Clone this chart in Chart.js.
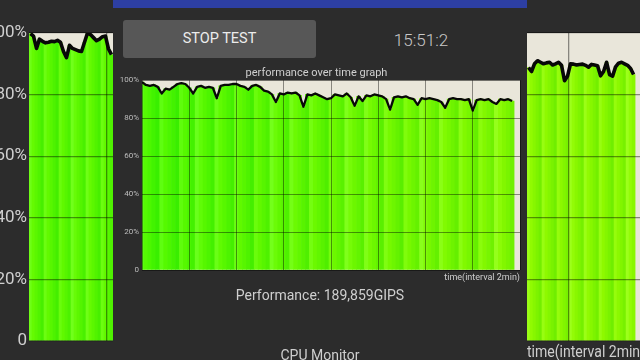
<!DOCTYPE html>
<html><head><meta charset="utf-8">
<script src="https://cdn.jsdelivr.net/npm/chart.js@4.4.0/dist/chart.umd.min.js"></script>
<style>
html,body{margin:0;padding:0;width:640px;height:360px;overflow:hidden;background:#2c2c2c;font-family:Roboto,sans-serif;}
#wrap{position:relative;width:640px;height:360px;overflow:hidden;}
canvas{position:absolute;}
#topbar{position:absolute;left:113px;top:0;width:414px;height:8px;background:#2d3fa3;}
#btn{position:absolute;left:123px;top:20px;width:193px;height:38px;background:#575757;border-radius:3px;color:#ececec;font-size:14.5px;line-height:38px;text-align:center;}
#clock{position:absolute;left:371px;top:30px;width:100px;text-align:center;color:#c8c8c8;font-size:17px;line-height:20px;font-weight:300;}
#perf{position:absolute;left:0;width:640px;top:287px;text-align:center;color:#cfcfcf;font-size:14px;line-height:16px;}
#cpu{position:absolute;left:0;width:640px;top:347px;text-align:center;color:#cfcfcf;font-size:14px;line-height:16px;}
</style></head>
<body><div id="wrap">
<canvas id="leftChart" width="135" height="360" style="left:-20px;top:0;"></canvas>
<canvas id="rightChart" width="130" height="364" style="left:527px;top:0;"></canvas>
<div id="topbar"></div>
<div id="btn">STOP TEST</div>
<div id="clock">15:51:2</div>
<canvas id="mainChart" width="436" height="228" style="left:113px;top:60px;"></canvas>
<div id="perf">Performance: 189,859GIPS</div>
<div id="cpu">CPU Monitor</div>
</div>
<script>
// ---- data (percent of peak performance, one sample every 10 s) ----
const sampleSeconds = 10;
const axisSeconds = 960;          // 8 intervals of 2 min
const intervalSeconds = 120;
const yTicks = [0, 20, 40, 60, 80, 100];
const mainPerf = [
  99, 97.5, 97, 97.5, 96.5, 93, 95.5, 95, 96.5, 98,
  98.5, 98, 96, 93, 96.5, 97, 96, 96.5, 96, 90.5,
  97, 97.5, 97.5, 98, 98, 97, 96.5, 95, 97, 97.5,
  96.5, 94.5, 94, 92.5, 88.5, 93, 92.5, 93.5, 93, 93.5,
  92, 86, 92.5, 92, 93, 92, 91, 90, 90.5, 92.5,
  92, 91.5, 93, 91, 86.5, 91.5, 89, 92, 91.5, 92.5,
  92, 91.5, 90, 84.5, 91, 91.5, 91, 91.5, 90.5, 90,
  87, 90.5, 90, 90.5, 90, 89.5, 88.5, 85.5, 90, 90.5,
  90, 90, 89.5, 90, 84, 89.5, 90, 89.5, 90, 88.5,
  87.5, 90, 89.5, 90, 89
];
const leftPerf = [
  99.8, 99, 95, 98, 97.3, 96.8, 97, 97.3, 97.2, 97.6,
  97, 94, 92, 96, 95, 94.6, 94.2, 94, 97, 100,
  99.5, 98.5, 97.5, 98, 98.8, 99, 94.8, 93
];
const leftGridSeconds = 255;
const rightPerf = [
  88.8, 87.5, 90, 91, 90.5, 90, 90.3, 90.5, 89.6, 90,
  90.5, 89.5, 84.5, 86, 90, 89.9, 89.6, 89.8, 89.9, 89.5,
  88.9, 89.8, 89.6, 89.4, 86.1, 87.5, 90.5, 86.5, 86, 89,
  90.2, 90.5, 90, 89.5, 88.5, 86.5
];
const rightGridSeconds = 135;

// ---- styling helpers ----
const FONT = 'Roboto';
const GRID = 'rgba(0,0,0,0.42)';
function stripe(i, base) {
  const j = ((i * 53 + 17) % 19) / 18;
  const r = Math.round(base + j * 45);
  const g = Math.round(238 + j * 17);
  const b = j > 0.7 ? Math.round((j - 0.7) * 90) : 0;
  return `rgb(${r},${g},${b})`;
}
const bgPlugin = {
  id: 'bg',
  beforeDatasetsDraw(chart, args, opts) {
    const {ctx, chartArea: a} = chart;
    ctx.save();
    ctx.fillStyle = opts.color || '#e9e6da';
    ctx.fillRect(a.left, a.top, a.right - a.left, a.bottom - a.top);
    ctx.restore();
  }
};
function pts(arr) { return arr.map((v, i) => ({x: i * sampleSeconds, y: v})); }

function makeChart(id, values, cfg) {
  const data = pts(values);
  return new Chart(document.getElementById(id), {
    type: 'bar',
    data: {datasets: [
      {type: 'line', data, borderColor: '#080808', borderWidth: cfg.lineWidth, pointRadius: 0, tension: 0, order: 0, borderJoinStyle: 'round'},
      {type: 'bar', data, backgroundColor: data.map((p, i) => stripe(i, cfg.base(i, data.length))), borderWidth: 0, barPercentage: 1, categoryPercentage: 1, order: 1}
    ]},
    options: {
      responsive: false, animation: false, devicePixelRatio: 1,
      layout: {padding: cfg.padding},
      plugins: {
        legend: {display: false}, tooltip: {enabled: false},
        title: cfg.title || {display: false},
        bg: {color: '#e9e6da'}
      },
      scales: {
        x: {
          type: 'linear', min: cfg.xMin, max: cfg.xMax, offset: false,
          ticks: {display: false, stepSize: intervalSeconds},
          afterBuildTicks: cfg.xGrid ? (s => { s.ticks = cfg.xGrid.map(v => ({value: v})); }) : undefined,
          grid: {color: GRID, lineWidth: cfg.gridWidth, drawTicks: false, offset: false, z: 1},
          border: {display: false},
          title: cfg.xTitle || {display: false},
          afterFit: s => { s.height = cfg.xHeight; }
        },
        y: {
          min: 0, max: 100,
          afterBuildTicks: s => { s.ticks = yTicks.map(v => ({value: v})); },
          ticks: {display: cfg.yLabels, color: cfg.tickColor, font: {family: FONT, size: cfg.tickSize}, padding: cfg.tickPad,
                  callback: v => v === 0 ? '0' : v + '%'},
          grid: {color: GRID, lineWidth: cfg.gridWidth, drawTicks: false, z: 1},
          border: {display: false},
          afterFit: s => { s.width = cfg.yWidth; }
        }
      }
    },
    plugins: [bgPlugin]
  });
}

// main chart
makeChart('mainChart', mainPerf, {
  lineWidth: 2.3, gridWidth: 1,
  base: (i, n) => 52 + 55 * i / n,
  padding: {left: 0, right: 29, top: 0, bottom: 0},
  title: {display: true, text: 'performance over time graph', color: '#cfcfcf', font: {family: FONT, size: 11, weight: 'normal'}, padding: {top: 7, bottom: 0}},
  xMin: 0, xMax: axisSeconds, xHeight: 18,
  xTitle: {display: true, text: 'time(interval 2min)', align: 'end', color: '#cfcfcf', font: {family: FONT, size: 9}, padding: {top: 0, bottom: 5}},
  yLabels: true, tickColor: '#bdbdbd', tickSize: 8, tickPad: 3, yWidth: 29
});

// left background chart (zoomed)
makeChart('leftChart', leftPerf, {
  lineWidth: 3.6, gridWidth: 1.3,
  base: () => 68,
  padding: {left: 0, right: 2, top: 33, bottom: 19},
  xMin: -sampleSeconds / 2, xMax: leftPerf.length * sampleSeconds - sampleSeconds / 2, xHeight: 0,
  xGrid: [leftGridSeconds],
  yLabels: true, tickColor: '#cfcfcf', tickSize: 17, tickPad: 2, yWidth: 49
});

// right background chart (zoomed)
makeChart('rightChart', rightPerf, {
  lineWidth: 3.6, gridWidth: 1.3,
  base: () => 112,
  padding: {left: 0, right: 12, top: 33, bottom: 0},
  xMin: -sampleSeconds / 2, xMax: 388, xHeight: 23,
  xGrid: [rightGridSeconds],
  xTitle: {display: true, text: 'time(interval 2min)', align: 'start', color: '#cfcfcf', font: {family: FONT, size: 17}, padding: {top: 0, bottom: 1}},
  yLabels: false, tickColor: '#cfcfcf', tickSize: 17, tickPad: 2, yWidth: 0
});
</script>
</body></html>
